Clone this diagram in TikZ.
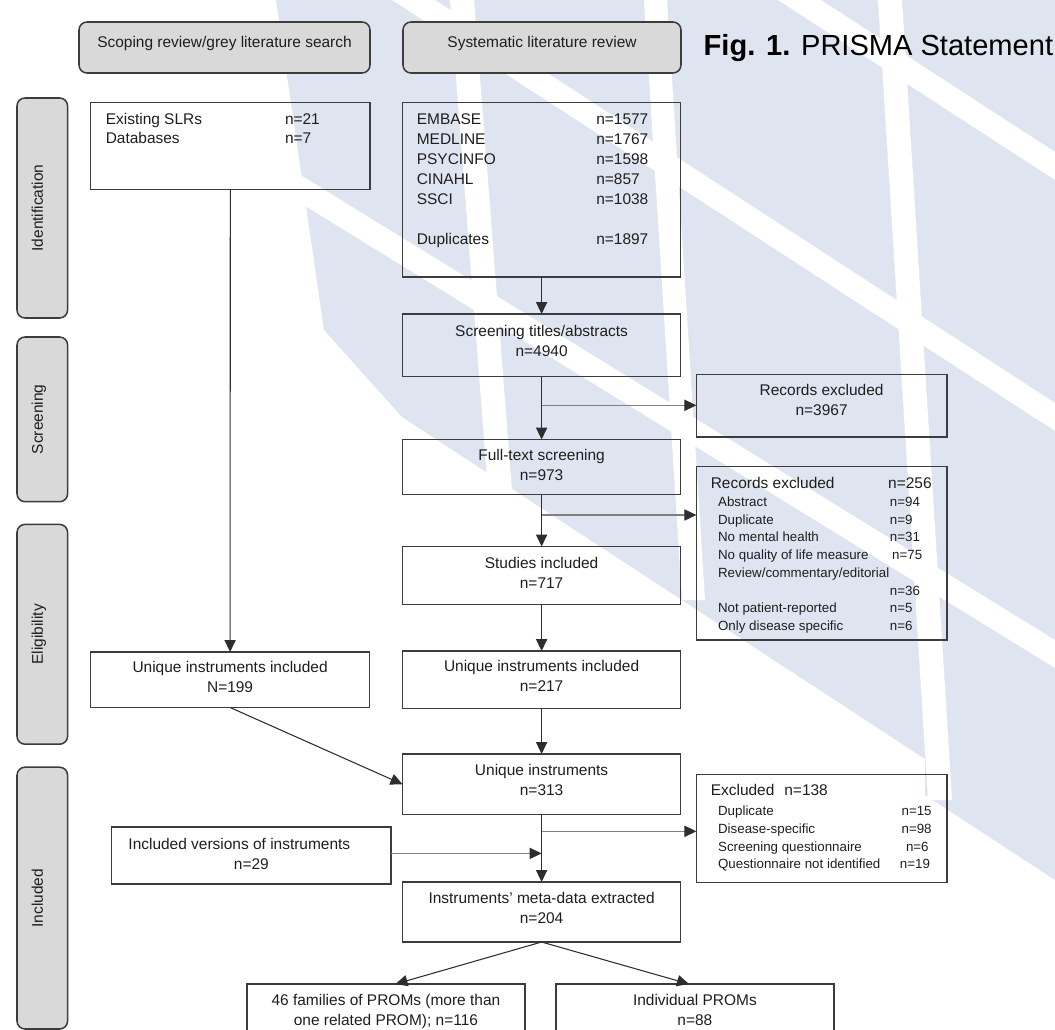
\documentclass[tikz,border=0pt]{standalone}
\usepackage{fontspec}
\setmainfont{Liberation Sans}
\usetikzlibrary{arrows.meta}
\newdimen\pxu \pxu=0.75pt
\newcommand\mainfs{\fontsize{11.6pt}{15pt}\selectfont}
\newcommand\subfs{\fontsize{10pt}{13.3pt}\selectfont}
\newcommand\bxc[4]{\begin{minipage}[t][#2\pxu][t]{#1\pxu}\centering\rule{0pt}{#3\pxu}#4\par\end{minipage}}
\newcommand\bxl[4]{\begin{minipage}[t][#2\pxu][t]{#1\pxu}\raggedright\rule{0pt}{#3\pxu}#4\par\end{minipage}}
\definecolor{wmblue}{HTML}{DFE5F0}
\definecolor{boxc}{HTML}{3C3C3C}
\definecolor{hdrfill}{HTML}{D9D9D9}
\definecolor{linec}{HTML}{2E2E2E}
\definecolor{brc}{HTML}{808080}
\definecolor{txt}{HTML}{1E1E1E}
\tikzset{
  wm/.style={fill=wmblue},
  wstripe/.style={fill=white},
  box/.style={draw=boxc, line width=1.15pt, inner sep=0pt, outer sep=0pt, font=\mainfs, text=txt},
  hdr/.style={box, fill=hdrfill, rounded corners=6pt},
  ln/.style={draw=linec, line width=1pt},
  thinln/.style={draw=linec, line width=0.8pt},
  br/.style={draw=brc, line width=0.8pt},
  arr/.style={-{Triangle[length=9pt,width=8.4pt,color=linec]}},
}
\begin{document}
\begin{tikzpicture}[x=0.75pt,y=-0.75pt]
\useasboundingbox (0,0) rectangle (1055,1030);
% ---------- watermark ----------
\fill[wm] (276,0) -- (1055,0) -- (1055,880) -- (925,795) -- (925,759) -- (402,417) -- (324,330) -- cycle;
\fill[wstripe] (450,0) -- (474,0) -- (514,517) -- (490,517) -- cycle;
\fill[wstripe] (644,0) -- (667,0) -- (705,600) -- (682,600) -- cycle;
\fill[wstripe] (878,0) -- (902,0) -- (952,800) -- (928,800) -- cycle;
\fill[wstripe] (392,0) -- (435,0) -- (1055,403) -- (1055,431) -- cycle;
\fill[wstripe] (778,0) -- (821,0) -- (1055,152) -- (1055,180) -- cycle;
\fill[wstripe] (276,160) -- (1055,640) -- (1055,668) -- (276,188) -- cycle;
% ---------- headers ----------
\node[hdr, anchor=north west] (hdrL) at (79,22) {\bxc{291}{51}{25.3}{Scoping review/grey literature search}};
\node[hdr, anchor=north west] (hdrR) at (403,22) {\bxc{278}{51}{25.3}{Systematic literature review}};
\node[anchor=base west, inner sep=0pt, font=\fontsize{21.8pt}{26pt}\selectfont, text=black] (fig) at (703.4,55.2) {\textbf{Fig. 1.} PRISMA Statement};
% ---------- side labels ----------
\node[hdr, rotate=90] (sI) at (42.3,208) {\bxc{220}{50.6}{25.9}{Identification}};
\node[hdr, rotate=90] (sS) at (42.3,419.35) {\bxc{164.7}{50.6}{25.9}{Screening}};
\node[hdr, rotate=90] (sE) at (42.3,634.3) {\bxc{219.8}{50.6}{25.9}{Eligibility}};
\node[hdr, rotate=90] (sN) at (42.3,898.1) {\bxc{261.8}{50.6}{25.9}{Included}};
% ---------- boxes ----------
\node[box, anchor=north west] (exist) at (90.6,102.4) {\bxl{279.4}{86.9}{22.6}{\baselineskip=14pt
  \hspace*{15.2\pxu}\makebox[179.2\pxu][l]{Existing SLRs}n=21\\
  \hspace*{15.2\pxu}\makebox[179.2\pxu][l]{Databases}n=7}};
\node[box, anchor=north west] (sys) at (402.5,102.4) {\bxl{278.2}{174.6}{22.6}{\baselineskip=14.9pt
  \hspace*{14.3\pxu}\makebox[179.5\pxu][l]{EMBASE}n=1577\\
  \hspace*{14.3\pxu}\makebox[179.5\pxu][l]{MEDLINE}n=1767\\
  \hspace*{14.3\pxu}\makebox[179.5\pxu][l]{PSYCINFO}n=1598\\
  \hspace*{14.3\pxu}\makebox[179.5\pxu][l]{CINAHL}n=857\\
  \hspace*{14.3\pxu}\makebox[179.5\pxu][l]{SSCI}n=1038\\[14.9pt]
  \hspace*{14.3\pxu}\makebox[179.5\pxu][l]{Duplicates}n=1897}};
\node[box, anchor=north west] (scr) at (402.5,314) {\bxc{278.2}{62.5}{22}{Screening titles/abstracts\\n=4940}};
\node[box, anchor=north west] (rex1) at (696.4,374.5) {\bxc{250.4}{62.5}{20.8}{Records excluded\\n=3967}};
\node[box, anchor=north west] (fts) at (402.5,439.5) {\bxc{278.2}{55}{21.1}{Full-text screening\\n=973}};
\node[box, anchor=north west] (rex2) at (696.4,466.6) {\bxl{250.4}{173.4}{21.4}{%
  \hspace*{14.4\pxu}\makebox[177.4\pxu][l]{Records excluded}n=256\\[0.7\pxu]
  \subfs
  \hspace*{21.7\pxu}\makebox[171.8\pxu][l]{Abstract}n=94\\
  \hspace*{21.7\pxu}\makebox[171.8\pxu][l]{Duplicate}n=9\\
  \hspace*{21.7\pxu}\makebox[171.8\pxu][l]{No mental health}n=31\\
  \hspace*{21.7\pxu}\makebox[174.1\pxu][l]{No quality of life measure}n=75\\
  \hspace*{21.7\pxu}Review/commentary/editorial\\
  \hspace*{21.7\pxu}\makebox[171.8\pxu][l]{}n=36\\
  \hspace*{21.7\pxu}\makebox[171.8\pxu][l]{Not patient-reported}n=5\\
  \hspace*{21.7\pxu}\makebox[171.8\pxu][l]{Only disease specific}n=6}};
\node[box, anchor=north west] (studies) at (402.5,546.5) {\bxc{278.2}{58}{21.9}{Studies included\\n=717}};
\node[box, anchor=north west] (uL) at (90.6,652) {\bxc{279}{55.5}{20.5}{Unique instruments included\\N=199}};
\node[box, anchor=north west] (uC) at (402.5,651) {\bxc{278.2}{57.5}{20.7}{Unique instruments included\\n=217}};
\node[box, anchor=north west] (u313) at (402.5,754) {\bxc{278.2}{60.5}{21.3}{Unique instruments\\n=313}};
\node[box, anchor=north west] (ex3) at (696.4,774.7) {\bxl{250.4}{107.8}{20.8}{%
  \hspace*{14.4\pxu}\makebox[73.6\pxu][l]{Excluded}n=138\\[2.5\pxu]
  \subfs
  \hspace*{21.7\pxu}\makebox[183.5\pxu][l]{Duplicate}n=15\\
  \hspace*{21.7\pxu}\makebox[183.5\pxu][l]{Disease-specific}n=98\\
  \hspace*{21.7\pxu}\makebox[187.9\pxu][l]{Screening questionnaire}n=6\\
  \hspace*{21.7\pxu}\makebox[181.9\pxu][l]{Questionnaire not identified}n=19}};
\node[box, anchor=north west] (inclv) at (111.6,827) {\bxc{279.5}{57}{22}{\mbox{Included versions of instruments}\kern24\pxu\\n=29}};
\node[box, anchor=north west] (meta) at (402.5,882) {\bxc{278.2}{60}{21.8}{Instruments' meta-data extracted\\n=204}};
\node[box, anchor=north west] (fam) at (246.8,984) {\bxc{278.2}{60}{21.8}{46 families of PROMs (more than\\one related PROM); n=116}};
\node[box, anchor=north west] (ind) at (555.8,984) {\bxc{278.2}{60}{21.8}{Individual PROMs\\n=88}};
% ---------- junctions ----------
\coordinate (j1) at (541.6,405.3);
\coordinate (j2) at (541.6,515);
\coordinate (j3) at (541.6,831.3);
\coordinate (j4) at (541.6,853.4);
% ---------- connectors ----------
\draw[thinln, arr] (exist.south) -- (uL.north);
\draw[ln, arr] (sys.south) -- (scr.north);
\draw[ln, arr] (scr.south) -- (fts.north);
\draw[ln, arr] (fts.south) -- (studies.north);
\draw[ln, arr] (studies.south) -- (uC.north);
\draw[ln, arr] (uC.south) -- (u313.north);
\draw[ln, arr] (u313.south) -- (meta.north);
\draw[br, arr] (j1) -- (j1 -| rex1.west);
\draw[br, arr] (j2) -- (j2 -| rex2.west);
\draw[br, arr] (j3) -- (j3 -| ex3.west);
\draw[br, arr] (inclv.east |- j4) -- (j4);
\draw[thinln, arr] (uL.south) -- (u313.west);
\draw[thinln, arr] (meta.south) -- ([xshift=7.2pt]fam.north);
\draw[thinln, arr] (meta.south) -- ([xshift=-4.4pt]ind.north);
\end{tikzpicture}
\end{document}
